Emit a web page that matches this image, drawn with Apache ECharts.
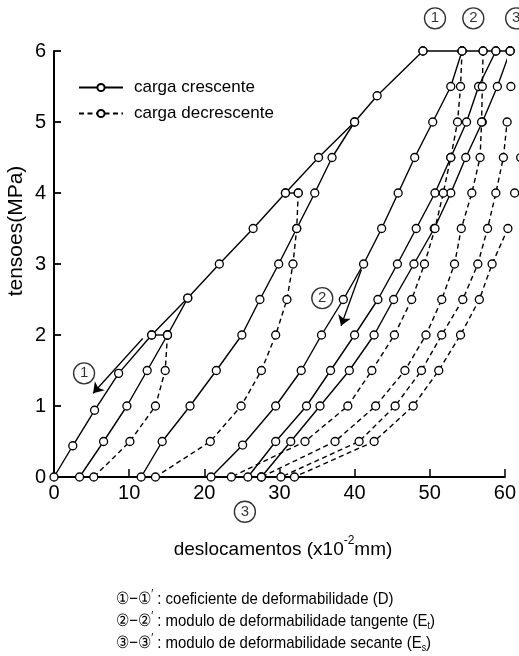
<!DOCTYPE html>
<html>
<head>
<meta charset="utf-8">
<script src="https://cdn.jsdelivr.net/npm/echarts@6/dist/echarts.min.js"></script>
<style>
html,body{margin:0;padding:0;background:#fff}
#c{width:519px;height:656px}
</style>
</head>
<body>
<div id="c"></div>
<script>
// Axis ranges and tick labels
const xTicks = [0, 10, 20, 30, 40, 50, 60];
const yTicks = [0, 1, 2, 3, 4, 5, 6];

// Loading curves (carga crescente): [deslocamento x10^-2 mm, tensao MPa]
const cargaEnvoltoria = [[0,0],[2.5,0.44],[5.4,0.94],[8.6,1.46],[13.0,2],[17.8,2.52],[22.0,3],[26.5,3.5],[30.8,4],[35.2,4.5],[40.0,5],[43.0,5.37],[49.1,6]];
const patamar2 = [[13.0,2],[15.1,2]];
const patamar4 = [[30.8,4],[32.5,4]];
const patamar6 = [[49.1,6],[54.3,6],[57.1,6],[58.8,6],[60.7,6],[63.3,6]];
const recarga1 = [[3.4,0],[6.6,0.5],[9.7,1],[12.4,1.5],[15.1,2],[17.8,2.52]];
const recarga2 = [[11.6,0],[14.4,0.5],[18.1,1],[21.6,1.5],[25.0,2],[27.4,2.5],[29.9,3],[32.3,3.5],[34.7,4],[37.0,4.5],[40.0,5]];
const recarga3 = [[20.9,0],[25.1,0.45],[29.5,1],[32.9,1.5],[35.6,2],[38.5,2.5],[41.2,3],[43.6,3.5],[45.8,4],[48.0,4.5],[50.4,5],[52.8,5.5],[54.3,6]];
const recarga4 = [[25.8,0],[29.5,0.5],[33.6,1],[36.8,1.5],[40.0,2],[43.1,2.5],[45.7,3],[48.2,3.5],[50.7,4],[52.8,4.5],[54.9,5],[56.5,5.5],[58.8,6]];
const recarga5 = [[27.6,0],[31.5,0.5],[35.4,1],[39.3,1.5],[42.6,2],[45.2,2.5],[47.9,3],[50.6,3.5],[52.8,4],[54.8,4.5],[57.0,5],[59.0,5.5],[60.7,6]];

// Unloading curves (carga decrescente)
const descarga1 = [[15.1,2],[14.8,1.5],[13.5,1],[10.1,0.5],[5.3,0]];
const descarga2 = [[32.5,4],[32.3,3.5],[31.8,3],[31.0,2.5],[29.5,2],[27.6,1.5],[24.9,1],[20.8,0.5],[13.5,0]];
const descarga3 = [[54.3,6],[54.1,5.5],[53.7,5],[52.8,4.5],[51.8,4],[50.7,3.5],[49.3,3],[47.6,2.5],[45.3,2],[42.3,1.5],[39.1,1],[33.4,0.5],[23.6,0]];
const descarga4 = [[57.1,6],[57.0,5.5],[56.9,5],[56.7,4.5],[55.6,4],[54.2,3.5],[53.3,3],[51.6,2.5],[49.5,2],[46.7,1.5],[42.8,1],[37.4,0.5],[27.6,0]];
const descarga5 = [[60.7,6],[60.8,5.5],[60.3,5],[59.8,4.5],[58.8,4],[57.7,3.5],[56.4,3],[54.4,2.5],[51.6,2],[48.9,1.5],[45.4,1],[40.6,0.5],[30.2,0]];
const descarga6 = [[63.3,6],[63.0,5.5],[62.6,5],[62.1,4.5],[61.3,4],[60.4,3.5],[58.3,3],[56.6,2.5],[54.1,2],[51.2,1.5],[47.8,1],[42.6,0.5],[32.0,0]];

// Circled reference markers and their arrows
const rotulos = [[4.0,1.46,'1'],[50.7,6.46,'1'],[35.7,2.52,'2'],[55.8,6.46,'2'],[25.4,-0.49,'3'],[61.5,6.46,'3']];
const setas = [
  [[11.8,1.95],[5.2,1.18]],
  [[49.6,6.06],[51.4,6.28]],
  [[40.9,2.92],[38.2,2.13]],
  [[54.8,6.01],[56.0,6.27]],
  [[28.9,0.5],[26.9,-0.09]],
  [[60.7,6.03],[61.8,6.21]]
];

const NOME_C = 'carga crescente';
const NOME_D = 'carga decrescente';
const FONT = "'Liberation Sans',Arial,Helvetica,sans-serif";

function curva(nome, dados, tracejada) {
  return {
    type: 'line',
    name: nome,
    data: dados,
    clip: false,
    symbol: 'circle',
    symbolSize: 8,
    showAllSymbol: true,
    animation: false,
    silent: true,
    itemStyle: { color: '#fff', borderColor: '#000', borderWidth: 1.3 },
    lineStyle: { color: '#000', width: 1.4, type: tracejada ? [5, 3.5] : 'solid' }
  };
}

const series = [
  curva(NOME_C, cargaEnvoltoria, false),
  curva(NOME_C, patamar2, false),
  curva(NOME_C, patamar4, false),
  curva(NOME_C, patamar6, false),
  curva(NOME_C, recarga1, false),
  curva(NOME_C, recarga2, false),
  curva(NOME_C, recarga3, false),
  curva(NOME_C, recarga4, false),
  curva(NOME_C, recarga5, false),
  curva(NOME_D, descarga1, true),
  curva(NOME_D, descarga2, true),
  curva(NOME_D, descarga3, true),
  curva(NOME_D, descarga4, true),
  curva(NOME_D, descarga5, true),
  curva(NOME_D, descarga6, true),
  {
    type: 'line',
    name: 'setas',
    data: [],
    clip: false,
    silent: true,
    animation: false,
    markLine: {
      silent: true,
      animation: false,
      symbol: ['none', 'arrow'],
      symbolSize: 10,
      label: { show: false },
      itemStyle: { color: '#000' },
      lineStyle: { color: '#000', width: 1.3, type: 'solid' },
      emphasis: { disabled: true },
      data: setas.map(s => [{ coord: s[0] }, { coord: s[1] }])
    }
  },
  {
    type: 'scatter',
    name: 'rotulos',
    clip: false,
    silent: true,
    animation: false,
    symbol: 'circle',
    symbolSize: 21,
    data: rotulos.map(r => ({ value: [r[0], r[1]], digito: r[2] })),
    itemStyle: { color: '#fff', borderColor: '#000', borderWidth: 1.4 },
    label: {
      show: true,
      position: 'inside',
      formatter: p => p.data.digito,
      color: '#000',
      fontSize: 15,
      fontFamily: FONT
    },
    z: 5
  }
];

// Footnote lines: circled pair followed by the description
const nota = (n, corpo, y) => ({
  type: 'text',
  x: 116,
  y: y,
  scaleX: 0.88,
  silent: true,
  style: {
    text: '{c|' + n + '}{t|−}{c|' + n + '}{p|′}' + corpo,
    verticalAlign: 'middle',
    rich: {
      c: { fontSize: 17, fontFamily: FONT, fill: '#000', lineHeight: 20 },
      t: { fontSize: 17, fontFamily: FONT, fill: '#000', lineHeight: 20 },
      p: { fontSize: 12, fontFamily: FONT, fill: '#000', lineHeight: 20, verticalAlign: 'top' },
      s: { fontSize: 10, fontFamily: FONT, fill: '#000', lineHeight: 20, verticalAlign: 'bottom' }
    }
  }
});

const chart = echarts.init(document.getElementById('c'), null, { renderer: 'canvas' });
chart.setOption({
  backgroundColor: '#fff',
  animation: false,
  grid: { left: 54, right: 13, top: 51, bottom: 179 },
  legend: {
    data: [NOME_C, NOME_D],
    orient: 'vertical',
    left: 78,
    top: 79,
    padding: 0,
    itemWidth: 44,
    itemHeight: 9,
    itemGap: 9,
    selectedMode: false,
    textStyle: { fontSize: 17, fontFamily: FONT, color: '#000', padding: [0, 0, 0, 6] }
  },
  xAxis: {
    type: 'value',
    min: xTicks[0],
    max: xTicks[xTicks.length - 1],
    interval: 10,
    splitLine: { show: false },
    axisLine: { lineStyle: { color: '#000', width: 2 } },
    axisTick: { inside: true, length: 8, lineStyle: { color: '#000', width: 1.5 } },
    axisLabel: { color: '#000', fontSize: 20, fontFamily: FONT, margin: 6 }
  },
  yAxis: {
    type: 'value',
    min: yTicks[0],
    max: yTicks[yTicks.length - 1],
    interval: 1,
    splitLine: { show: false },
    axisLine: { lineStyle: { color: '#000', width: 2 } },
    axisTick: { inside: true, length: 7, lineStyle: { color: '#000', width: 1.8 } },
    axisLabel: { color: '#000', fontSize: 20, fontFamily: FONT, margin: 8 }
  },
  graphic: [
    {
      type: 'text',
      x: 16,
      y: 231,
      rotation: Math.PI / 2,
      silent: true,
      style: {
        text: 'tensoes(MPa)',
        fontSize: 21,
        fontFamily: FONT,
        fill: '#000',
        align: 'center',
        verticalAlign: 'middle'
      }
    },
    {
      type: 'text',
      x: 283,
      y: 547,
      silent: true,
      style: {
        text: '{t|deslocamentos (x10}{s|-2}{t|mm)}',
        align: 'center',
        verticalAlign: 'middle',
        rich: {
          t: { fontSize: 19, fontFamily: FONT, fill: '#000', lineHeight: 24, verticalAlign: 'bottom' },
          s: { fontSize: 12, fontFamily: FONT, fill: '#000', lineHeight: 24, verticalAlign: 'top' }
        }
      }
    },
    nota('①', '{t| : coeficiente de deformabilidade (D)}', 599),
    nota('②', '{t| : modulo de deformabilidade tangente (E}{s|t}{t|)}', 621),
    nota('③', '{t| : modulo de deformabilidade secante (E}{s|s}{t|)}', 643)
  ],
  series: series
});
</script>
</body>
</html>
